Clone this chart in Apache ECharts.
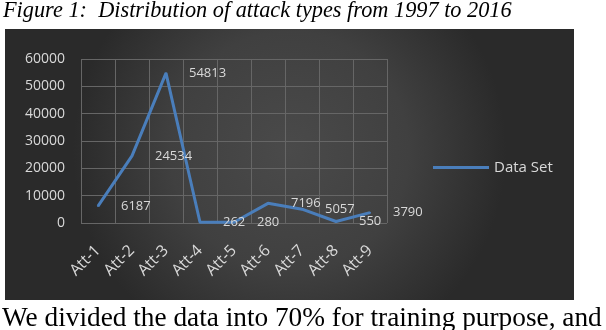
<!DOCTYPE html>
<html>
<head>
<meta charset="utf-8">
<script src="https://cdn.jsdelivr.net/npm/echarts@6/dist/echarts.min.js"></script>
<style>
  html, body { margin: 0; padding: 0; background: #fff; }
  #chart { width: 606px; height: 330px; }
</style>
</head>
<body>
<div id="chart"></div>
<script>
// attack type categories and counts
const categories = ['Att-1', 'Att-2', 'Att-3', 'Att-4', 'Att-5', 'Att-6', 'Att-7', 'Att-8', 'Att-9']
const dataSet = [6187, 24534, 54813, 262, 280, 7196, 5057, 550, 3790]
const yTicks = [0, 10000, 20000, 30000, 40000, 50000, 60000]

const chart = echarts.init(document.getElementById('chart'))
const textColor = '#d9d9d9'
const lineColor = '#4a7ebb'

const option = {
  backgroundColor: '#ffffff',
  animation: false,
  graphic: [
    {
      // dark panel behind the chart
      type: 'rect',
      z: -10,
      shape: { x: 5, y: 29, width: 569, height: 271 },
      style: {
        fill: new echarts.graphic.RadialGradient(0.5, 0.45, 0.8, [
          { offset: 0, color: '#4a4a4a' },
          { offset: 0.55, color: '#404040' },
          { offset: 1, color: '#2a2a2a' }
        ])
      }
    },
    {
      type: 'text',
      left: 3,
      top: 0,
      style: {
        text: 'Figure 1:  Distribution of attack types from 1997 to 2016',
        font: 'italic 22.3px "Liberation Serif", "DejaVu Serif", serif',
        fill: '#000'
      }
    },
    {
      type: 'text',
      left: 2,
      top: 305,
      style: {
        text: 'We divided the data into 70% for training purpose, and',
        font: '27.3px "Liberation Serif", "DejaVu Serif", serif',
        fill: '#000'
      }
    }
  ],
  legend: {
    data: [{ name: 'Data Set', icon: 'rect' }],
    left: 428,
    top: 155,
    itemWidth: 56,
    itemHeight: 3,
    itemGap: 10,
    itemStyle: { color: lineColor, opacity: 1 },
    textStyle: { color: textColor, fontSize: 15, fontFamily: 'Open Sans' }
  },
  grid: {
    left: 81,
    top: 59,
    width: 306,
    height: 164
  },
  xAxis: {
    type: 'category',
    data: categories,
    boundaryGap: true,
    axisLine: { show: false },
    axisTick: { show: false },
    axisLabel: {
      rotate: 45,
      interval: 0,
      margin: 25,
      color: textColor,
      fontSize: 16,
      fontFamily: 'Open Sans'
    },
    splitLine: { show: true, lineStyle: { color: '#666666', width: 1 } }
  },
  yAxis: {
    type: 'value',
    min: yTicks[0],
    max: yTicks[yTicks.length - 1],
    interval: 10000,
    axisLine: { show: false },
    axisTick: { show: false },
    axisLabel: {
      margin: 16,
      color: textColor,
      fontSize: 14,
      fontFamily: 'Open Sans',
      formatter: (v) => String(v)
    },
    splitLine: { lineStyle: { color: '#666666', width: 1 } }
  },
  series: [
    {
      name: 'Data Set',
      type: 'line',
      data: dataSet,
      symbol: 'circle',
      symbolSize: 2,
      showSymbol: true,
      itemStyle: { color: lineColor },
      lineStyle: { color: lineColor, width: 3 },
      label: {
        show: true,
        position: 'right',
        distance: 22,
        color: textColor,
        fontSize: 13,
        fontFamily: 'Open Sans',
        formatter: (p) => String(p.value)
      },
      labelLayout: { hideOverlap: false }
    }
  ]
}

chart.setOption(option)
</script>
</body>
</html>
